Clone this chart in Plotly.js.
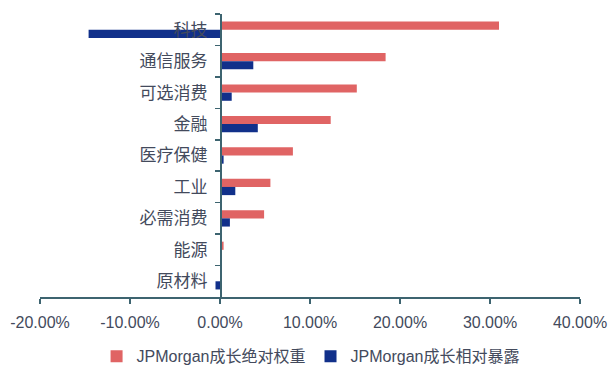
<!DOCTYPE html>
<html>
<head>
<meta charset="utf-8">
<script src="https://cdn.plot.ly/plotly-3.0.1.min.js"></script>
<style>html,body{margin:0;padding:0;background:#fff;}#chart{width:615px;height:375px;}</style>
</head>
<body>
<div id="chart"></div>
<script>
const categories = ["科技","通信服务","可选消费","金融","医疗保健","工业","必需消费","能源","原材料"];
const absWeight = [0.310, 0.184, 0.152, 0.123, 0.081, 0.056, 0.049, 0.004, 0.0];
const relExposure = [-0.146, 0.037, 0.013, 0.042, 0.004, 0.017, 0.011, 0.0, -0.005];
const seriesNames = ["JPMorgan成长绝对权重","JPMorgan成长相对暴露"];
const xTicks = [-0.2,-0.1,0,0.1,0.2,0.3,0.4];
const xTickText = ["-20.00%","-10.00%","0.00%","10.00%","20.00%","30.00%","40.00%"];

const axisColor = "#3d6470";
const textColor = "#434a5c";
const font = "Liberation Sans, Noto Sans CJK SC, sans-serif";

const traces = [
  {type:"bar", orientation:"h", name:seriesNames[0], y:categories, x:absWeight,
   marker:{color:"#e06464"}},
  {type:"bar", orientation:"h", name:seriesNames[1], y:categories, x:relExposure,
   marker:{color:"#11308a"}}
];
const layout = {
  width:615, height:375,
  margin:{l:40, r:35, t:14, b:78},
  paper_bgcolor:"#fff", plot_bgcolor:"#fff",
  font:{family:font, color:textColor},
  barmode:"group", bargap:0.48, bargroupgap:0,
  showlegend:true,
  legend:{orientation:"h", x:0.505, xanchor:"center", xref:"container",
          y:0.05, yanchor:"middle", yref:"container",
          font:{size:16, color:textColor}, itemwidth:30, traceorder:"normal"},
  xaxis:{range:[-0.2,0.4], tickvals:xTicks, ticktext:xTickText, showgrid:false,
         zeroline:false, showline:true, linecolor:axisColor, linewidth:1.5,
         ticks:"outside", ticklen:5, tickcolor:axisColor, tickwidth:1.5,
         tickfont:{size:16, color:textColor}, ticklabelstandoff:5, automargin:false},
  yaxis:{type:"category", categoryorder:"array", categoryarray:categories,
         autorange:"reversed", anchor:"free", position:1/3, automargin:false,
         showgrid:false, zeroline:false, showline:true, linecolor:axisColor, linewidth:1.5,
         ticks:"outside", tickson:"boundaries", ticklen:5, tickcolor:axisColor, tickwidth:1.5,
         tickfont:{size:17, color:textColor}, ticklabelstandoff:9}
};
Plotly.newPlot("chart", traces, layout, {displayModeBar:false, staticPlot:true});
</script>
</body>
</html>
